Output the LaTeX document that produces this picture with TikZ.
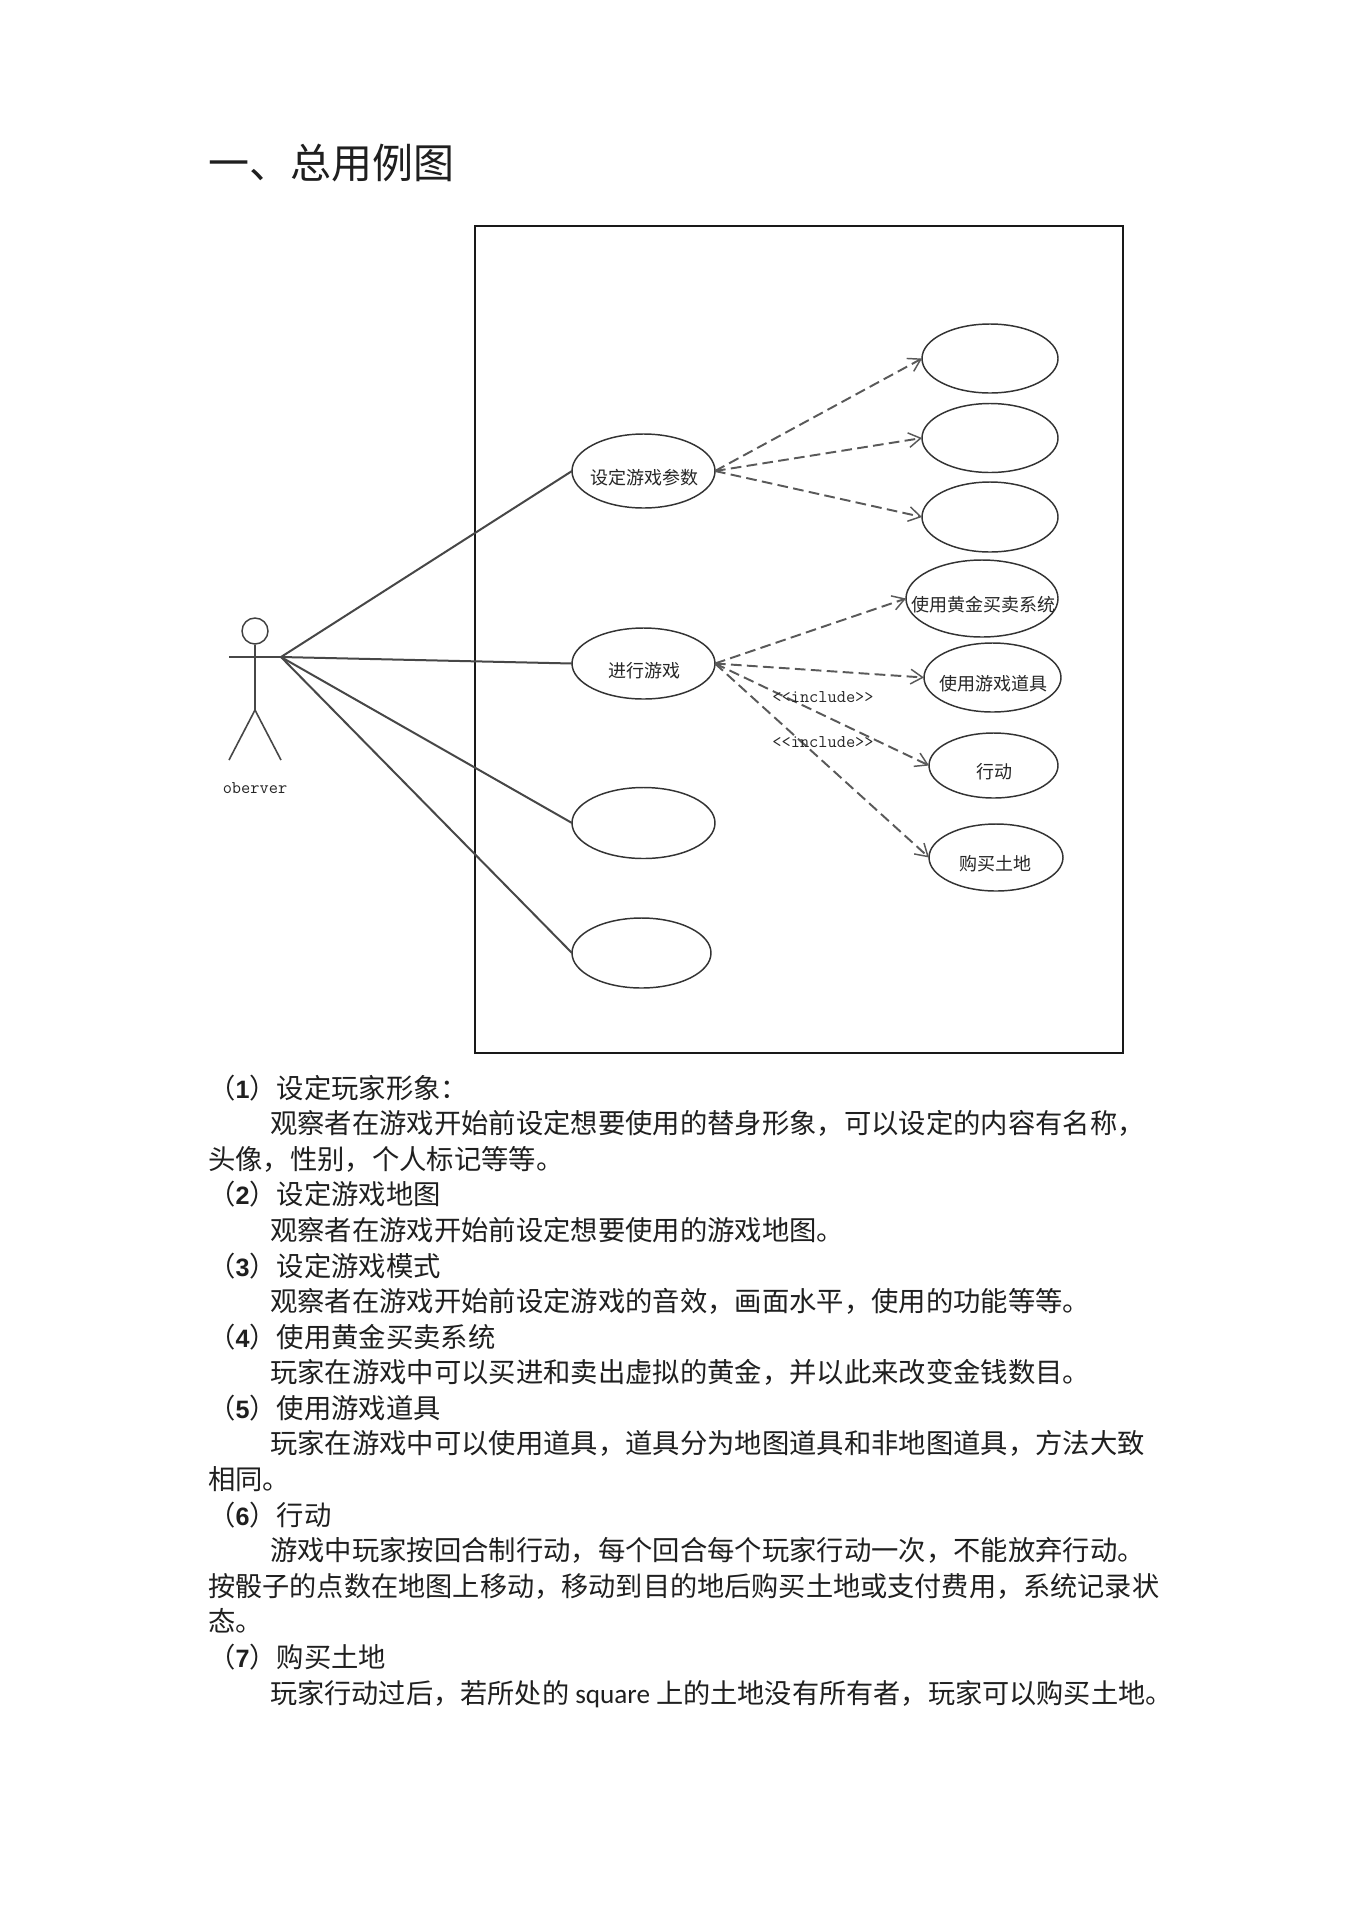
\documentclass[tikz,border=0pt]{standalone}
\usepackage{fontspec}
\setmainfont{Noto Sans CJK SC}
\newfontfamily\latfont{Carlito}
\newfontfamily\latbold[Scale=0.92]{Liberation Sans}
\usetikzlibrary{arrows.meta,shapes.geometric}
\newcommand{\cnum}[1]{{\latbold\bfseries #1}}
\tikzset{
  uc/.style={draw=black!80,line width=1.1pt,ellipse,inner sep=0pt,outer sep=0pt},
  assoc/.style={draw=black!72,line width=1.5pt},
  dep/.style={draw=black!65,line width=1.45pt,dash pattern=on 8pt off 4pt,-{Straight Barb[length=9pt,width=11pt,line width=1.1pt]}},
  uclabel/.style={font=\fontsize{13.5pt}{14pt}\selectfont,text=black!85,inner sep=0pt},
  monolabel/.style={font=\fontsize{13.4pt}{14pt}\ttfamily,text=black!85,inner sep=0pt},
  bodyline/.style={anchor=base west,inner sep=0pt,font=\fontsize{20.5pt}{21pt}\selectfont,text=black!88},
  longline/.style={bodyline,font=\fontsize{20.38pt}{21pt}\selectfont},
  stick/.style={draw=black!72,line width=1.2pt}
}
\begin{document}
\begin{tikzpicture}[x=0.75pt,y=-0.75pt]
\useasboundingbox (0,0) rectangle (1360,1924);
\fill[white] (0,0) rectangle (1360,1924);
% title
\node[bodyline,font=\fontsize{30.75pt}{32pt}\selectfont] (title) at (208,178) {一、总用例图};
% system frame
\node[draw=black!90,line width=1.1pt,rectangle,minimum width=486pt,minimum height=620.25pt,inner sep=0pt] (frame) at (799,639.5) {};
% actor
\node[draw=black!75,line width=1.1pt,circle,minimum size=19.5pt,inner sep=0pt] (head) at (255,631) {};
\coordinate (hip) at (255,710);
\coordinate (armL) at (229,657);
\coordinate (armR) at (281,657);
\coordinate (neck) at (255,657);
\coordinate (legL) at (229,760);
\coordinate (legR) at (281,760);
\draw[stick] (head.south) -- (hip);
\draw[stick] (armL) -- (armR);
\draw[stick] (legL) -- (hip) -- (legR);
\node[monolabel] (actorname) at (255,788) {oberver};
% left use cases
\node[uc,minimum width=107.25pt,minimum height=55.5pt] (ucA) at (643.5,471) {};
\node[uc,minimum width=107.25pt,minimum height=53.25pt] (ucB) at (643.5,663.5) {};
\node[uc,minimum width=107.25pt,minimum height=53.25pt] (ucC) at (643.5,823) {};
\node[uc,minimum width=104.25pt,minimum height=52.5pt] (ucD) at (641.5,953) {};
\node[uclabel] (lA) at (644,478) {设定游戏参数};
\node[uclabel] (lB) at (644.5,671) {进行游戏};
% right use cases
\node[uc,minimum width=102pt,minimum height=51.75pt] (r1) at (990,358.5) {};
\node[uc,minimum width=102pt,minimum height=51.75pt] (r2) at (990,438) {};
\node[uc,minimum width=102pt,minimum height=52.5pt] (r3) at (990,517) {};
\node[uc,minimum width=114pt,minimum height=57.75pt] (r4) at (982,598.5) {};
\node[uc,minimum width=102.75pt,minimum height=51.75pt] (r5) at (992.5,677.5) {};
\node[uc,minimum width=96.75pt,minimum height=48.75pt] (r6) at (993.5,765.5) {};
\node[uc,minimum width=100.5pt,minimum height=50.25pt] (r7) at (996,857.5) {};
\node[uclabel] (l4) at (983,605) {使用黄金买卖系统};
\node[uclabel] (l5) at (993,684) {使用游戏道具};
\node[uclabel] (l6) at (994,772) {行动};
\node[uclabel] (l7) at (995,864) {购买土地};
% associations
\draw[assoc] (armR) -- (ucA.west);
\draw[assoc] (armR) -- (ucB.west);
\draw[assoc] (armR) -- (ucC.west);
\draw[assoc] (armR) -- (ucD.west);
% dependencies
\draw[dep] (ucA.east) -- (r1.west);
\draw[dep] (ucA.east) -- (r2.west);
\draw[dep] (ucA.east) -- (r3.west);
\draw[dep] (ucB.east) -- (r4.west);
\draw[dep] (ucB.east) -- (r5.west);
\draw[dep] (ucB.east) -- (r6.west);
\draw[dep] (ucB.east) -- (r7.west);
\node[monolabel] (inc1) at (823,697) {<{}<include>{}>};
\node[monolabel] (inc2) at (823,742) {<{}<include>{}>};
% body text
\node[bodyline] (t1) at (208,1098) {（\cnum{1}）设定玩家形象：};
\node[bodyline] (t2) at (270,1133.6) {观察者在游戏开始前设定想要使用的替身形象，可以设定的内容有名称，};
\node[bodyline] (t3) at (208,1169) {头像，性别，个人标记等等。};
\node[bodyline] (t4) at (208,1204.7) {（\cnum{2}）设定游戏地图};
\node[bodyline] (t5) at (270,1240) {观察者在游戏开始前设定想要使用的游戏地图。};
\node[bodyline] (t6) at (208,1276) {（\cnum{3}）设定游戏模式};
\node[bodyline] (t7) at (270,1311) {观察者在游戏开始前设定游戏的音效，画面水平，使用的功能等等。};
\node[bodyline] (t8) at (208,1347) {（\cnum{4}）使用黄金买卖系统};
\node[bodyline] (t9) at (270,1382.5) {玩家在游戏中可以买进和卖出虚拟的黄金，并以此来改变金钱数目。};
\node[bodyline] (t10) at (208,1418) {（\cnum{5}）使用游戏道具};
\node[bodyline] (t11) at (270,1453.6) {玩家在游戏中可以使用道具，道具分为地图道具和非地图道具，方法大致};
\node[bodyline] (t12) at (208,1489) {相同。};
\node[bodyline] (t13) at (208,1525) {（\cnum{6}）行动};
\node[bodyline] (t14) at (270,1560) {游戏中玩家按回合制行动，每个回合每个玩家行动一次，不能放弃行动。};
\node[longline] (t15) at (208,1596) {按骰子的点数在地图上移动，移动到目的地后购买土地或支付费用，系统记录状};
\node[bodyline] (t16) at (208,1631) {态。};
\node[bodyline] (t17) at (208,1667) {（\cnum{7}）购买土地};
\node[longline] (t18) at (270,1703) {玩家行动过后，若所处的{\latfont\ square\ }上的土地没有所有者，玩家可以购买土地。};
\end{tikzpicture}
\end{document}
